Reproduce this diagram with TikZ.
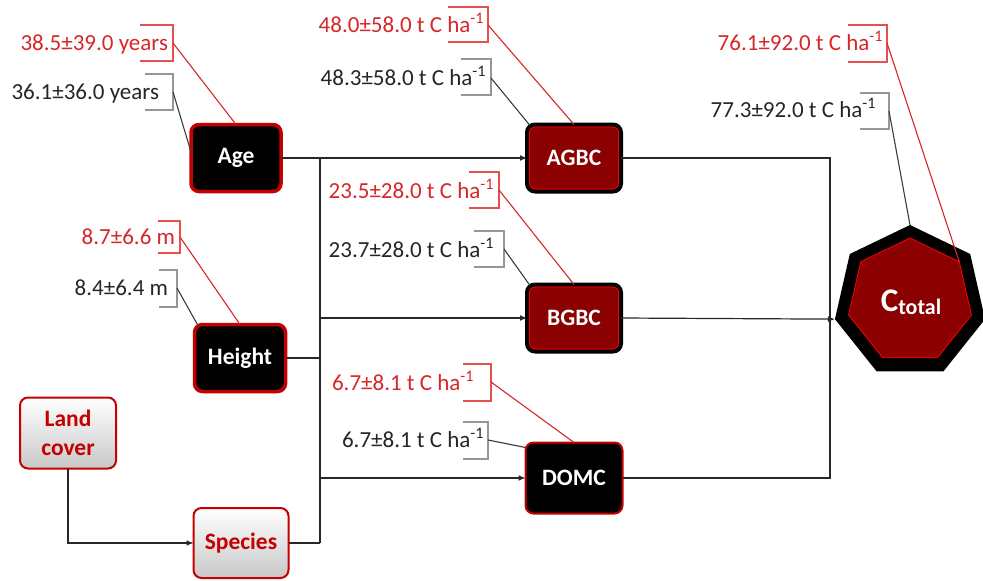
\documentclass[tikz,border=0pt]{standalone}
\usepackage{fontspec}
\setmainfont{Carlito}
\usetikzlibrary{arrows.meta,shapes.geometric,calc}
\definecolor{lblred}{RGB}{214,38,40}
\definecolor{brred}{RGB}{232,80,80}
\definecolor{boxred}{RGB}{196,0,0}
\definecolor{darkfill}{RGB}{139,0,0}
\definecolor{connc}{RGB}{40,40,40}
\definecolor{brgray}{RGB}{150,150,150}
\definecolor{leadgray}{RGB}{60,60,60}
\definecolor{softgray}{RGB}{200,200,200}
\newcommand{\thaunit}{t C ha\textsuperscript{-1}}

\begin{document}
\begin{tikzpicture}[x=1pt,y=-1pt,
  every node/.style={font=\fontsize{23}{27}\selectfont, inner sep=0pt, outer sep=0pt},
  boxfont/.style={font=\fontsize{23.5}{29}\selectfont\bfseries},
  blackbox/.style={boxfont, rectangle, rounded corners=8pt, fill=black, draw=boxred,
    line width=3.5pt, text=white},
  greybox/.style={boxfont, rectangle, rounded corners=8pt, top color=white,
    bottom color=softgray, draw=boxred, line width=2pt, text=boxred, align=center},
  poolbox/.style={boxfont, rectangle, rounded corners=8pt, fill=darkfill, draw=black,
    line width=4pt, text=white},
  litterbox/.style={boxfont, rectangle, rounded corners=8pt, fill=black, draw=boxred,
    line width=2pt, text=white},
  innerrim/.style={draw=red, line width=0.8pt, rounded corners=6pt},
  conn/.style={draw=connc, line width=1.2pt},
  arrowed/.style={-{Latex[length=7pt,width=6pt]}},
  redlbl/.style={text=lblred, anchor=mid east},
  blklbl/.style={text=black!85, anchor=mid east},
  redbr/.style={draw=brred, line width=1.1pt},
  graybr/.style={draw=brgray, line width=1.1pt},
  redlead/.style={draw=lblred, line width=1.1pt},
  graylead/.style={draw=leadgray, line width=1.1pt}]

\useasboundingbox (0,0) rectangle (983,581);

% ---------- driver boxes ----------
\node[blackbox, minimum width=90pt, minimum height=67pt] (age) at (236,158) {Age};
\node[blackbox, minimum width=91pt, minimum height=67pt] (height) at (240,358) {Height};
\node[greybox, minimum width=96pt, minimum height=71pt] (land) at (68,433) {Land\\cover};
\node[greybox, minimum width=95pt, minimum height=70pt] (species) at (241,543) {Species};

% ---------- carbon pools ----------
\node[poolbox, minimum width=94pt, minimum height=67pt] (agbc) at (574,158) {AGBC};
\node[poolbox, minimum width=94pt, minimum height=67pt] (bgbc) at (574,318) {BGBC};
\node[litterbox, minimum width=97pt, minimum height=71pt] (domc) at (574,478) {DOMC};
\draw[innerrim] ([shift={(2.5pt,2.5pt)}]agbc.south west) rectangle ([shift={(-2.5pt,-2.5pt)}]agbc.north east);
\draw[innerrim] ([shift={(2.5pt,2.5pt)}]bgbc.south west) rectangle ([shift={(-2.5pt,-2.5pt)}]bgbc.north east);

% ---------- total carbon heptagon ----------
\node[regular polygon, regular polygon sides=7, minimum size=154pt, fill=black] (ctot) at (910,302) {};
\node[regular polygon, regular polygon sides=7, minimum size=126pt, fill=darkfill,
  draw=red, line width=0.8pt] (ctotin) at (910,301) {};
\node[text=white] (ctotlbl) at (911,302)
  {\bfseries{\fontsize{33}{33}\selectfont C}\raisebox{-3pt}{\fontsize{22}{22}\selectfont total}};

% ---------- connectors ----------
\coordinate (busTop) at (320,158);
\coordinate (busBot) at (320,543);
\coordinate (rbusTop) at (830,158);
\coordinate (rbusBot) at (830,478);
\draw[conn, arrowed] (age.east) -- (agbc.west);
\draw[conn] (busTop) -- (busBot);
\draw[conn] (height.east) -- (height.east -| busTop);
\draw[conn] (species.east) -- (busBot);
\draw[conn, arrowed] (busTop |- bgbc.west) -- (bgbc.west);
\draw[conn, arrowed] (busTop |- domc.west) -- (domc.west);
\draw[conn, arrowed] (land.south) |- (species.west);
\draw[conn] (agbc.east) -- (rbusTop) -- (rbusBot) -- (domc.east);
\draw[conn, arrowed] (bgbc.east) -- (ctot.corner 3);

% ---------- value callouts ----------
% Age
\node[redlbl] (ageR) at (168,48) {38.5±39.0 years};
\node[blklbl] (ageB) at (159,97) {36.1±36.0 years};
\coordinate (ageRb) at (173,43);
\coordinate (ageBb) at (173,92);
\draw[redbr] (140,25) -- (173,25) -- (173,61) -- (140,61);
\draw[graybr] (145,74) -- (173,74) -- (173,110) -- (145,110);
\draw[redlead] (ageRb) -- (age.north);
\draw[graylead] (ageBb) -- ([yshift=6pt]age.west);

% Height
\node[redlbl] (heightR) at (175,242) {8.7±6.6 m};
\node[blklbl] (heightB) at (168,293) {8.4±6.4 m};
\coordinate (heightRb) at (180,237);
\coordinate (heightBb) at (177,288);
\draw[redbr] (158,221) -- (180,221) -- (180,253) -- (158,253);
\draw[graybr] (159,270) -- (177,270) -- (177,307) -- (159,307);
\draw[redlead] (heightRb) -- (height.north);
\draw[graylead] (heightBb) -- ([shift={(4pt,-2pt)}]height.north west);

% AGBC
\node[redlbl] (agbcR) at (484,30) {48.0±58.0 \thaunit};
\node[blklbl] (agbcB) at (486,83) {48.3±58.0 \thaunit};
\coordinate (agbcRb) at (488,25);
\coordinate (agbcBb) at (491,78);
\draw[redbr] (448,7) -- (488,7) -- (488,42) -- (448,42);
\draw[graybr] (461,59) -- (491,59) -- (491,95) -- (461,95);
\draw[redlead] (agbcRb) -- (agbc.north);
\draw[graylead] (agbcBb) -- ([shift={(3pt,-1pt)}]agbc.north west);

% BGBC
\node[redlbl] (bgbcR) at (494,196) {23.5±28.0 \thaunit};
\node[blklbl] (bgbcB) at (494,255) {23.7±28.0 \thaunit};
\coordinate (bgbcRb) at (499,190);
\coordinate (bgbcBb) at (504,249);
\draw[redbr] (469,172) -- (499,172) -- (499,208) -- (469,208);
\draw[graybr] (474,231) -- (504,231) -- (504,267) -- (474,267);
\draw[redlead] (bgbcRb) -- (bgbc.north);
\draw[graylead] (bgbcBb) -- ([shift={(3pt,-1pt)}]bgbc.north west);

% DOMC
\node[redlbl] (domcR) at (474,388) {6.7±8.1 \thaunit};
\node[blklbl] (domcB) at (484,445) {6.7±8.1 \thaunit};
\coordinate (domcRb) at (491,382);
\coordinate (domcBb) at (488,440);
\draw[redbr] (463,364) -- (491,364) -- (491,401) -- (463,401);
\draw[graybr] (463,422) -- (488,422) -- (488,459) -- (463,459);
\draw[redlead] (domcRb) -- (domc.north);
\draw[graylead] (domcBb) -- ([yshift=-5pt]domc.north west);

% Total
\node[redlbl] (ctotR) at (883,48) {76.1±92.0 \thaunit};
\node[blklbl] (ctotB) at (876,115) {77.3±92.0 \thaunit};
\coordinate (ctotRb) at (887,43);
\coordinate (ctotBb) at (889,111);
\draw[redbr] (848,25) -- (887,25) -- (887,62) -- (848,62);
\draw[graybr] (860,93) -- (889,93) -- (889,129) -- (860,129);
\draw[redlead] (ctotRb) -- (ctotin.corner 7);
\draw[graylead] (ctotBb) -- (ctot.corner 1);

\end{tikzpicture}
\end{document}
